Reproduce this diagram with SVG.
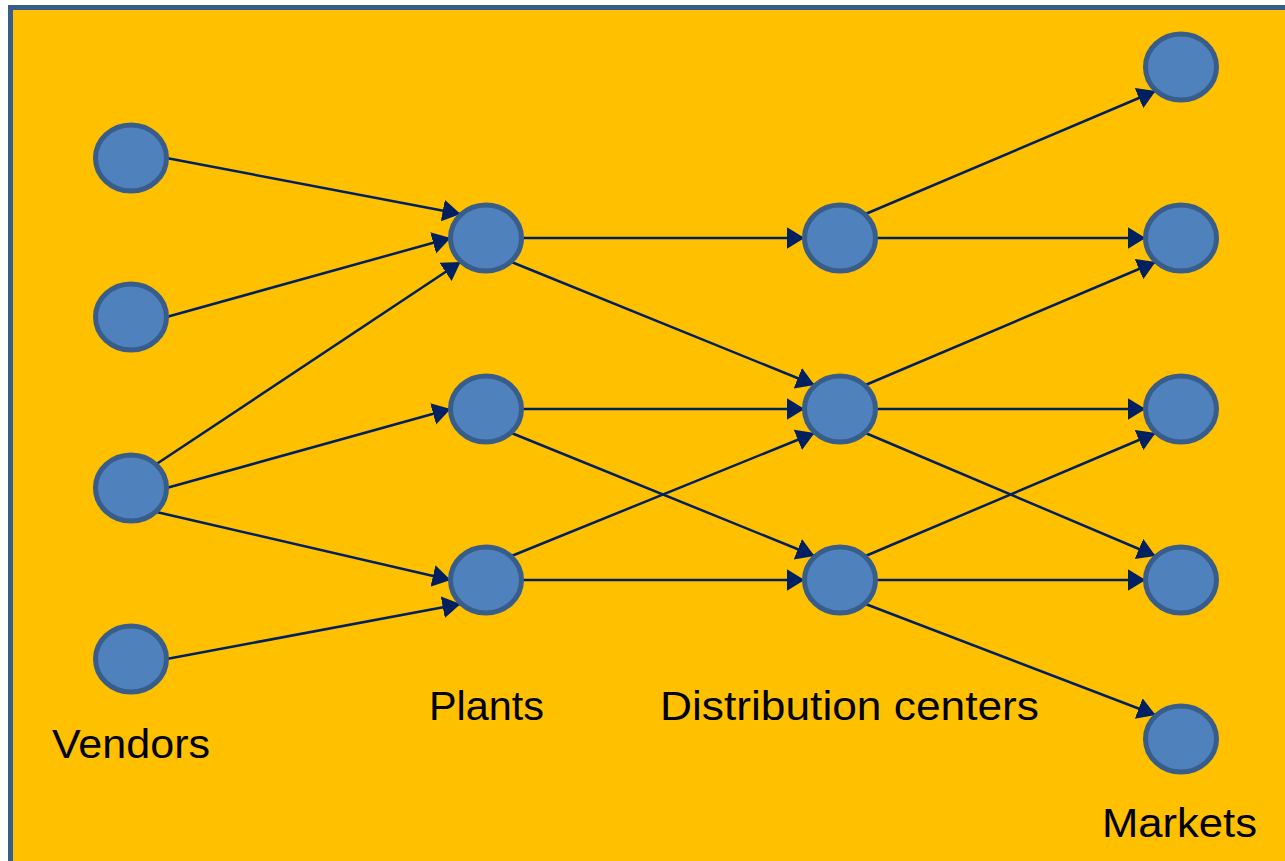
<svg xmlns="http://www.w3.org/2000/svg" width="1285" height="861" viewBox="0 0 1285 861">
  <style>
    .node { fill: #4F81BD; stroke: #385D8A; stroke-width: 5; }
    .edge { stroke: #002060; stroke-width: 2.5; fill: none; marker-end: url(#arrow); }
    .label { font-family: "Liberation Sans", Arial, sans-serif; font-size: 41px; fill: #000000; }
  </style>
  <defs>
    <marker id="arrow" markerUnits="userSpaceOnUse" markerWidth="20" markerHeight="24" refX="18" refY="11" orient="auto">
      <path d="M0,0 L18,11 L0,22 Z" fill="#002060"/>
    </marker>
  </defs>

  <rect width="1285" height="861" fill="#FFFFFF"/>
  <!-- panel background -->
  <rect x="10.5" y="7.5" width="1300" height="900" fill="#FFC000" stroke="#385D8A" stroke-width="5"/>

  <!-- connectors -->
  <g id="connectors">
    <line class="edge" x1="166.5" y1="158" x2="460.5" y2="214"/>
    <line class="edge" x1="166.5" y1="317" x2="450.5" y2="238"/>
    <line class="edge" x1="156.5" y1="464" x2="460.5" y2="262"/>
    <line class="edge" x1="166.5" y1="488" x2="450.5" y2="409"/>
    <line class="edge" x1="156.5" y1="512" x2="450.5" y2="580"/>
    <line class="edge" x1="166.5" y1="659" x2="460.5" y2="604"/>

    <line class="edge" x1="521.5" y1="238" x2="804.5" y2="238"/>
    <line class="edge" x1="511.5" y1="262" x2="814.5" y2="385"/>
    <line class="edge" x1="521.5" y1="409" x2="804.5" y2="409"/>
    <line class="edge" x1="511.5" y1="433" x2="814.5" y2="556"/>
    <line class="edge" x1="511.5" y1="556" x2="814.5" y2="433"/>
    <line class="edge" x1="521.5" y1="580" x2="804.5" y2="580"/>

    <line class="edge" x1="865.5" y1="214" x2="1155.5" y2="91"/>
    <line class="edge" x1="875.5" y1="238" x2="1145.5" y2="238"/>
    <line class="edge" x1="865.5" y1="385" x2="1155.5" y2="262"/>
    <line class="edge" x1="875.5" y1="409" x2="1145.5" y2="409"/>
    <line class="edge" x1="865.5" y1="433" x2="1155.5" y2="556"/>
    <line class="edge" x1="865.5" y1="556" x2="1155.5" y2="433"/>
    <line class="edge" x1="875.5" y1="580" x2="1145.5" y2="580"/>
    <line class="edge" x1="865.5" y1="604" x2="1155.5" y2="715"/>
  </g>

  <!-- vendors -->
  <g id="vendor-1"><ellipse class="node" cx="131" cy="158" rx="35.5" ry="33"/></g>
  <g id="vendor-2"><ellipse class="node" cx="131" cy="317" rx="35.5" ry="33"/></g>
  <g id="vendor-3"><ellipse class="node" cx="131" cy="488" rx="35.5" ry="33"/></g>
  <g id="vendor-4"><ellipse class="node" cx="131" cy="659" rx="35.5" ry="33"/></g>

  <!-- plants -->
  <g id="plant-1"><ellipse class="node" cx="486" cy="238" rx="35.5" ry="33"/></g>
  <g id="plant-2"><ellipse class="node" cx="486" cy="409" rx="35.5" ry="33"/></g>
  <g id="plant-3"><ellipse class="node" cx="486" cy="580" rx="35.5" ry="33"/></g>

  <!-- distribution centers -->
  <g id="dc-1"><ellipse class="node" cx="840" cy="238" rx="35.5" ry="33"/></g>
  <g id="dc-2"><ellipse class="node" cx="840" cy="409" rx="35.5" ry="33"/></g>
  <g id="dc-3"><ellipse class="node" cx="840" cy="580" rx="35.5" ry="33"/></g>

  <!-- markets -->
  <g id="market-1"><ellipse class="node" cx="1181" cy="67" rx="35.5" ry="33"/></g>
  <g id="market-2"><ellipse class="node" cx="1181" cy="238" rx="35.5" ry="33"/></g>
  <g id="market-3"><ellipse class="node" cx="1181" cy="409" rx="35.5" ry="33"/></g>
  <g id="market-4"><ellipse class="node" cx="1181" cy="580" rx="35.5" ry="33"/></g>
  <g id="market-5"><ellipse class="node" cx="1181" cy="739" rx="35.5" ry="33"/></g>

  <!-- column labels -->
  <g id="labels">
    <text class="label" x="52" y="758" textLength="158" lengthAdjust="spacingAndGlyphs">Vendors</text>
    <text class="label" x="429" y="720" textLength="115" lengthAdjust="spacingAndGlyphs">Plants</text>
    <text class="label" x="660" y="720" textLength="379" lengthAdjust="spacingAndGlyphs">Distribution centers</text>
    <text class="label" x="1102" y="837" textLength="155" lengthAdjust="spacingAndGlyphs">Markets</text>
  </g>
</svg>
